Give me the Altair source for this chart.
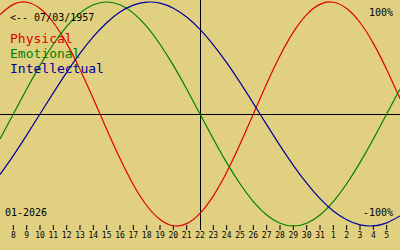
import altair as alt
import pandas as pd

# Days shown: Jan 7 .. Feb 6 (2026), expressed as day index 7..37
days = list(range(7, 38))
physical = [0.888, 0.979, 0.998, 0.942, 0.817, 0.631, 0.398, 0.136, -0.136, -0.398,
            -0.631, -0.817, -0.942, -0.998, -0.979, -0.888, -0.731, -0.520, -0.270, 0.0,
            0.270, 0.520, 0.731, 0.888, 0.979, 0.998, 0.942, 0.817, 0.631, 0.398, 0.136]
emotional = [-0.223, 0.0, 0.223, 0.434, 0.623, 0.782, 0.901, 0.975, 1.0, 0.975,
             0.901, 0.782, 0.623, 0.434, 0.223, 0.0, -0.223, -0.434, -0.623, -0.782,
             -0.901, -0.975, -1.0, -0.975, -0.901, -0.782, -0.623, -0.434, -0.223, 0.0, 0.223]
intellectual = [-0.541, -0.372, -0.189, 0.0, 0.189, 0.372, 0.541, 0.690, 0.815, 0.910,
                0.972, 0.999, 0.990, 0.945, 0.866, 0.756, 0.618, 0.458, 0.282, 0.095,
                -0.095, -0.282, -0.458, -0.618, -0.756, -0.866, -0.945, -0.990, -0.999, -0.972, -0.910]
series_names = ["Physical", "Emotional", "Intellectual"]
series_colors = ["#e00000", "#008000", "#0000a0"]

tick_days = list(range(8, 37))
tick_labels = ["8", "9", "10", "11", "12", "13", "14", "15", "16", "17", "18", "19", "20",
               "21", "22", "23", "24", "25", "26", "27", "28", "29", "30", "31",
               "1", "2", "3", "4", "5"]
today = 22

rows = []
for name, vals in zip(series_names, [physical, emotional, intellectual]):
    for d, v in zip(days, vals):
        rows.append({"day": d, "value": v, "series": name})
df = pd.DataFrame(rows)
ticks_df = pd.DataFrame({"day": [d for d in tick_days if d != today]})
labels_df = pd.DataFrame({"day": tick_days, "label": tick_labels})
today_df = pd.DataFrame({"day": [today]})
zero_df = pd.DataFrame({"value": [0.0]})

MONO = "DejaVu Sans Mono"
xs = alt.Scale(domain=[7, 37], nice=False, zero=False)
ys = alt.Scale(domain=[-1.2143, 1.0179], nice=False, zero=False)
X = alt.X("day:Q", scale=xs, axis=None)

zero_line = alt.Chart(zero_df).mark_rule(color="black", strokeWidth=1, yOffset=0.5).encode(
    y=alt.Y("value:Q", scale=ys, axis=None))
today_line = alt.Chart(today_df).mark_rule(color="black", strokeWidth=1, xOffset=0.5).encode(
    x=X, y=alt.value(0), y2=alt.value(230))
ticks = alt.Chart(ticks_df).mark_rule(color="black", strokeWidth=1).encode(
    x=X, y=alt.value(225), y2=alt.value(230))
tick_text = alt.Chart(labels_df).mark_text(
    font=MONO, fontSize=8, color="black", baseline="alphabetic", align="center"
).encode(x=X, y=alt.value(238), text="label:N")

lines = alt.Chart(df).mark_line(strokeWidth=1.2, interpolate="natural").encode(
    x=X,
    y=alt.Y("value:Q", scale=ys, axis=None),
    color=alt.Color("series:N", scale=alt.Scale(domain=series_names, range=series_colors), legend=None),
)


def label(text, x, y, size, color="black", align="left"):
    return alt.Chart(pd.DataFrame({"t": [text]})).mark_text(
        font=MONO, fontSize=size, color=color, align=align, baseline="alphabetic"
    ).encode(x=alt.value(x), y=alt.value(y), text="t:N")


texts = [
    label("<-- 07/03/1957", 10, 21, 10),
    label("Physical", 10, 43, 13, series_colors[0]),
    label("Emotional", 10, 58, 13, series_colors[1]),
    label("Intellectual", 10, 73, 13, series_colors[2]),
    label("100%", 393, 16, 10, align="right"),
    label("-100%", 393, 216, 10, align="right"),
    label("01-2026", 5, 216, 10),
]

chart = alt.layer(zero_line, today_line, ticks, tick_text, lines, *texts).properties(
    width=400, height=250,
    autosize=alt.AutoSizeParams(type="none"),
    padding=0,
    background="#e0d080",
).configure_view(stroke=None, fill="#e0d080")

chart.save("out.html", embed_options={"renderer": "svg", "actions": False})
